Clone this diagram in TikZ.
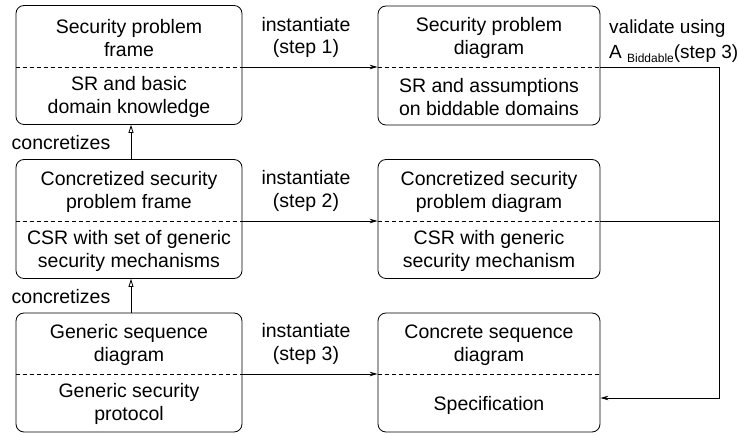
\documentclass[tikz,border=0pt]{standalone}
\usepackage{fontspec}
\setmainfont{Liberation Sans}
\usetikzlibrary{arrows.meta}
\begin{document}
\begin{tikzpicture}[x=1pt,y=-1pt, font=\fontsize{19.5}{22.5}\selectfont,
  box/.style={draw, rounded corners=8pt, minimum height=119pt, line width=0.8pt, inner sep=0pt},
  lbox/.style={box, minimum width=226pt},
  rbox/.style={box, minimum width=222pt},
  txt/.style={align=center, inner sep=0pt},
  lbl/.style={align=center, inner sep=0pt},
  sep/.style={dash pattern=on 4pt off 3pt, line width=0.7pt},
  conn/.style={line width=0.8pt, -{Stealth[length=8pt,width=4.5pt]}},
  plain/.style={line width=0.8pt},
  conc/.style={line width=0.8pt, -{Triangle[open,length=8pt,width=5pt]}}]
\useasboundingbox (0,0) rectangle (739,435);

% boxes
\node[lbox] (f1) at (129,65) {};
\node[lbox] (f2) at (129,219) {};
\node[lbox] (f3) at (129,372.5) {};
\node[rbox] (d1) at (489,65.5) {};
\node[rbox] (d2) at (489,219) {};
\node[rbox] (d3) at (489,372.5) {};

% separator levels
\coordinate (y1) at (0,67);
\coordinate (y2) at (0,221);
\coordinate (y3) at (0,374);
\coordinate (yv) at (0,398);
\coordinate (vr) at (719,67);
\coordinate (cx) at (131,0);

\draw[sep] (f1.west |- y1) -- (f1.east |- y1);
\draw[sep] (f2.west |- y2) -- (f2.east |- y2);
\draw[sep] (f3.west |- y3) -- (f3.east |- y3);
\draw[sep] (d1.west |- y1) -- (d1.east |- y1);
\draw[sep] (d2.west |- y2) -- (d2.east |- y2);
\draw[sep] (d3.west |- y3) -- (d3.east |- y3);

% texts
\node[txt] (f1a) at (129,38) {Security problem\\frame};
\node[txt] (f1b) at (129,97) {SR and basic\\domain knowledge};
\node[txt] (f2a) at (129,192) {Concretized security\\problem frame};
\node[txt] (f2b) at (129,251) {CSR with set of generic\\security mechanisms};
\node[txt] (f3a) at (129,345) {Generic sequence\\diagram};
\node[txt] (f3b) at (129,404) {Generic security\\protocol};

\node[txt] (d1a) at (489,38) {Security problem\\diagram};
\node[txt] (d1b) at (489,97) {SR and assumptions\\on biddable domains};
\node[txt] (d2a) at (489,192) {Concretized security\\problem diagram};
\node[txt] (d2b) at (489,251) {CSR with generic\\security mechanism};
\node[txt] (d3a) at (489,345) {Concrete sequence\\diagram};
\node[txt] (d3b) at (489,405) {Specification};

% connectors
\draw[conn] (f1.east |- y1) -- (d1.west |- y1);
\draw[conn] (f2.east |- y2) -- (d2.west |- y2);
\draw[conn] (f3.east |- y3) -- (d3.west |- y3);
\draw[conc] (f2.north -| cx) -- (f1.south -| cx);
\draw[conc] (f3.north -| cx) -- (f2.south -| cx);
\draw[conn] (d1.east |- y1) -- (vr) |- (d3.east |- yv);
\draw[plain] (d2.east |- y2) -- (vr |- y2);

% labels
\node[lbl] (i1) at (306,37.5) {instantiate\\(step 1)};
\node[lbl] (i2) at (306,191) {instantiate\\(step 2)};
\node[lbl] (i3) at (306,344) {instantiate\\(step 3)};
\node[lbl] (c1) at (61,143) {concretizes};
\node[lbl] (c2) at (61,297) {concretizes};
\node[anchor=west, align=left, inner sep=0pt, font=\fontsize{19}{25}\selectfont] (v) at (609,41) {validate using\\A \raisebox{-4pt}{\fontsize{12}{12}\selectfont Biddable}(step 3)};
\end{tikzpicture}
\end{document}
